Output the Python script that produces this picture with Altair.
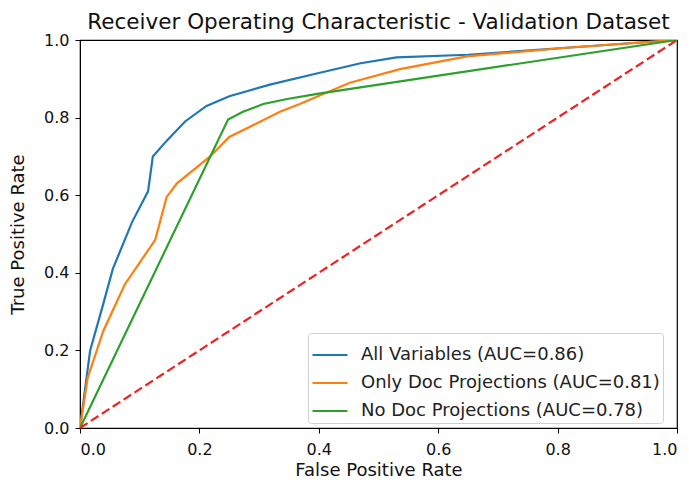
import altair as alt
import pandas as pd

series_names = ["All Variables (AUC=0.86)", "Only Doc Projections (AUC=0.81)", "No Doc Projections (AUC=0.78)"]
colors = ["#1f77b4", "#ff7f0e", "#2ca02c"]

all_fpr = [0.0, 0.017, 0.039, 0.055, 0.087, 0.114, 0.122, 0.145, 0.176, 0.212, 0.25, 0.318, 0.40, 0.47, 0.53, 0.65, 0.815, 1.0]
all_tpr = [0.0, 0.20, 0.32, 0.41, 0.53, 0.61, 0.70, 0.74, 0.79, 0.83, 0.855, 0.885, 0.915, 0.94, 0.955, 0.962, 0.98, 1.0]

doc_fpr = [0.0, 0.013, 0.039, 0.075, 0.126, 0.145, 0.162, 0.218, 0.25, 0.335, 0.368, 0.452, 0.536, 0.648, 0.815, 1.0]
doc_tpr = [0.0, 0.13, 0.25, 0.37, 0.485, 0.595, 0.63, 0.70, 0.75, 0.815, 0.835, 0.89, 0.925, 0.958, 0.98, 1.0]

nodoc_fpr = [0.0, 0.248, 0.273, 0.307, 0.347, 0.40, 1.0]
nodoc_tpr = [0.0, 0.795, 0.815, 0.835, 0.848, 0.862, 1.0]

diag_fpr = [0.0, 1.0]
diag_tpr = [0.0, 1.0]

rows = []
for name, xs, ys in zip(series_names, [all_fpr, doc_fpr, nodoc_fpr], [all_tpr, doc_tpr, nodoc_tpr]):
    for i, (x, y) in enumerate(zip(xs, ys)):
        rows.append({"series": name, "fpr": x, "tpr": y, "order": i})
df = pd.DataFrame(rows)
diag = pd.DataFrame({"fpr": diag_fpr, "tpr": diag_tpr})

xscale = alt.Scale(domain=[0, 1], nice=False, zero=False)
yscale = alt.Scale(domain=[0, 1], nice=False, zero=False)
ticks = [0, 0.2, 0.4, 0.6, 0.8, 1.0]

lines = alt.Chart(df).mark_line(strokeWidth=2.2, clip=True).encode(
    x=alt.X("fpr:Q", scale=xscale, title="False Positive Rate",
            axis=alt.Axis(values=ticks, format=".1f", labelPadding=8)),
    y=alt.Y("tpr:Q", scale=yscale, title="True Positive Rate",
            axis=alt.Axis(values=ticks, format=".1f")),
    color=alt.Color("series:N", scale=alt.Scale(domain=series_names, range=colors),
                    sort=series_names,
                    legend=alt.Legend(title=None, orient="none", legendX=228, legendY=293,
                                      symbolType="stroke", symbolStrokeWidth=2.2, symbolSize=1225,
                                      labelFontSize=18, labelFont="DejaVu Sans", labelColor="#222",
                                      labelLimit=0,
                                      fillColor="white", strokeColor="#d0d0d0", cornerRadius=3,
                                      padding=3, rowPadding=-11, labelOffset=12)),
    order="order:Q",
)

diag_line = alt.Chart(diag).mark_line(color="#ee2222", strokeDash=[9, 4], strokeWidth=2.2).encode(
    x=alt.X("fpr:Q", scale=xscale),
    y=alt.Y("tpr:Q", scale=yscale),
)

chart = alt.layer(lines, diag_line).properties(
    width=597, height=388,
    title=alt.TitleParams("Receiver Operating Characteristic - Validation Dataset",
                          fontSize=21.5, font="DejaVu Sans", fontWeight="normal", color="#111",
                          offset=-1, frame="group"),
    padding={"left": 72, "top": 32, "right": 4, "bottom": 50},
    autosize=alt.AutoSizeParams(type="none"),
).configure_view(stroke="black", strokeWidth=1.2).configure_axis(
    grid=False, domainColor="black", tickColor="black", tickSize=5,
    labelFont="DejaVu Sans", labelFontSize=16, labelColor="#111",
    titleFont="DejaVu Sans", titleFontSize=18, titleFontWeight="normal", titleColor="#111",
    labelPadding=6,
).configure_axisY(titlePadding=16).configure_axisX(titlePadding=4)

chart.save("out.html", embed_options={"renderer": "svg", "actions": False})
